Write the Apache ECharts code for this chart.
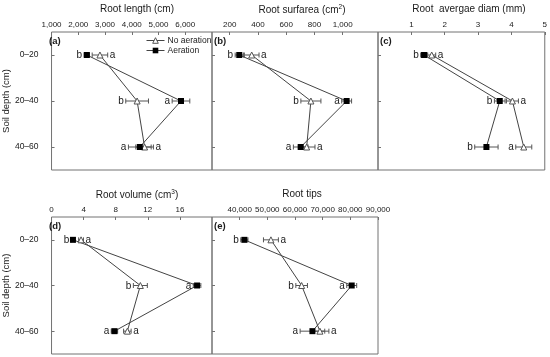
<!DOCTYPE html>
<html><head><meta charset="utf-8">
<script src="https://cdn.jsdelivr.net/npm/echarts@6/dist/echarts.min.js"></script>
<style>html,body{margin:0;padding:0;background:#fff}#c{width:550px;height:357px}</style>
</head><body><div id="c"></div>
<script>
// ---- data ----
const depths = ['0–20', '20–40', '40–60'];

// (a) Root length (cm)
const lengthNoAer = [2810, 4200, 4480];
const lengthNoAerErr = [290, 425, 330];
const lengthAer = [2320, 5840, 4300];
const lengthAerErr = [100, 330, 425];
const lengthNoAerSig = ['a', 'b', 'a'];
const lengthAerSig = ['b', 'a', 'a'];
const lengthTicks = [1000, 2000, 3000, 4000, 5000, 6000];

// (b) Root surface area (cm2)
const surfNoAer = [356, 775, 745];
const surfNoAerErr = [52, 71, 59];
const surfAer = [268, 1028, 703];
const surfAerErr = [29, 35, 52];
const surfNoAerSig = ['a', 'b', 'a'];
const surfAerSig = ['b', 'a', 'a'];
const surfTicks = [200, 400, 600, 800, 1000];

// (c) Root average diameter (mm)
const diamNoAer = [1.61, 4.03, 4.37];
const diamNoAerErr = [0.12, 0.18, 0.24];
const diamAer = [1.38, 3.65, 3.25];
const diamAerErr = [0.1, 0.16, 0.35];
const diamNoAerSig = ['a', 'a', 'a'];
const diamAerSig = ['b', 'b', 'b'];
const diamTicks = [1, 2, 3, 4, 5];

// (d) Root volume (cm3)
const volNoAer = [3.68, 11.07, 9.45];
const volNoAerErr = [0.3, 0.87, 0.47];
const volAer = [2.67, 18.14, 7.84];
const volAerErr = [0.2, 0.47, 0.4];
const volNoAerSig = ['a', 'b', 'a'];
const volAerSig = ['b', 'a', 'a'];
const volTicks = [0, 4, 8, 12, 16];

// (e) Root tips
const tipsNoAer = [51300, 62400, 69000];
const tipsNoAerErr = [2700, 2100, 3250];
const tipsAer = [41700, 80500, 66300];
const tipsAerErr = [1300, 1800, 4450];
const tipsNoAerSig = ['a', 'b', 'a'];
const tipsAerSig = ['b', 'a', 'a'];
const tipsTicks = [40000, 50000, 60000, 70000, 80000, 90000];

// ---- layout / styling ----
const FONT = '"Liberation Sans", Arial, sans-serif';
const panels = [
  {tag:'(a)', title:'Root length (cm)', tx:137, ty:4, grid:{left:47, top:32, width:165, height:138}, min:1000, max:7000, ticks:lengthTicks,
   noAer:lengthNoAer, noAerErr:lengthNoAerErr, aer:lengthAer, aerErr:lengthAerErr, noAerSig:lengthNoAerSig, aerSig:lengthAerSig,
   noAerSide:['right','left','right'], aerSide:['left','left','left'], yLabels:true},
  {tag:'(b)', title:'Root surfarea (cm{sup|2})', tx:302, ty:4, grid:{left:212, top:32, width:166, height:138}, min:75, max:1250, ticks:surfTicks,
   noAer:surfNoAer, noAerErr:surfNoAerErr, aer:surfAer, aerErr:surfAerErr, noAerSig:surfNoAerSig, aerSig:surfAerSig,
   noAerSide:['right','left','right'], aerSide:['left','left','left'], yLabels:false},
  {tag:'(c)', title:'Root  avergae diam (mm)', tx:469, ty:4, grid:{left:378, top:32, width:167, height:138}, min:0, max:5, ticks:diamTicks,
   noAer:diamNoAer, noAerErr:diamNoAerErr, aer:diamAer, aerErr:diamAerErr, noAerSig:diamNoAerSig, aerSig:diamAerSig,
   noAerSide:['right','right','left'], aerSide:['left','left','left'], yLabels:false},
  {tag:'(d)', title:'Root volume (cm{sup|3})', tx:137, ty:189, grid:{left:47, top:217, width:165, height:137}, min:0, max:20, ticks:volTicks,
   noAer:volNoAer, noAerErr:volNoAerErr, aer:volAer, aerErr:volAerErr, noAerSig:volNoAerSig, aerSig:volAerSig,
   noAerSide:['right','left','right'], aerSide:['left','left','left'], yLabels:true},
  {tag:'(e)', title:'Root tips', tx:302, ty:189, grid:{left:212, top:217, width:166, height:137}, min:30000, max:90000, ticks:tipsTicks,
   noAer:tipsNoAer, noAerErr:tipsNoAerErr, aer:tipsAer, aerErr:tipsAerErr, noAerSig:tipsNoAerSig, aerSig:tipsAerSig,
   noAerSide:['right','left','right'], aerSide:['left','left','left'], yLabels:false}
];

const grids = [], xAxes = [], yAxes = [], series = [], titles = [];

function errSeries(i, means, errs) {
  return {
    type:'custom', xAxisIndex:i, yAxisIndex:i, z:1, silent:true,
    data: means.map((m, k) => [m, depths[k]]),
    renderItem: (params, api) => {
      const k = params.dataIndex, m = means[k], e = errs[k];
      const p1 = api.coord([m - e, k]), p2 = api.coord([m + e, k]);
      const h = 2.5, st = {stroke:'#555', lineWidth:1};
      return {type:'group', children:[
        {type:'line', shape:{x1:p1[0], y1:p1[1], x2:p2[0], y2:p2[1]}, style:st},
        {type:'line', shape:{x1:p1[0], y1:p1[1]-h, x2:p1[0], y2:p1[1]+h}, style:st},
        {type:'line', shape:{x1:p2[0], y1:p2[1]-h, x2:p2[0], y2:p2[1]+h}, style:st}
      ]};
    }
  };
}
function sigSeries(i, means, errs, sig, side) {
  return {
    type:'custom', xAxisIndex:i, yAxisIndex:i, z:3, silent:true,
    data: means.map((m, k) => [m, depths[k]]),
    renderItem: (params, api) => {
      const k = params.dataIndex, m = means[k], e = errs[k];
      const left = side[k] === 'left';
      const p = api.coord([left ? m - e : m + e, k]);
      return {type:'text', x: p[0] + (left ? -2 : 2), y: p[1] + 0.5,
        style:{text: sig[k], align: left ? 'right' : 'left', verticalAlign:'middle',
               fontSize:10, fontFamily:FONT, fill:'#1a1a1a'}};
    }
  };
}

panels.forEach((p, i) => {
  grids.push(Object.assign({show:true, borderColor:'#727272', borderWidth:1, backgroundColor:'transparent'}, p.grid));
  xAxes.push({
    gridIndex:i, type:'value', position:'top', min:p.min, max:p.max,
    axisLine:{show:false}, splitLine:{show:false},
    axisTick:{show:true, inside:true, length:3, customValues:p.ticks, lineStyle:{color:'#727272'}},
    axisLabel:{customValues:p.ticks, margin:3, fontSize:8, fontFamily:FONT, color:'#1a1a1a',
               formatter:v => Number(v).toLocaleString('en-US')}
  });
  yAxes.push({
    gridIndex:i, type:'category', data:depths, inverse:true,
    axisLine:{show:false}, splitLine:{show:false},
    axisTick:{show:true, inside:true, length:3, alignWithLabel:true, lineStyle:{color:'#727272'}},
    axisLabel:{show:p.yLabels, margin:13, fontSize:8.5, fontFamily:FONT, color:'#1a1a1a'},
    name: p.yLabels ? 'Soil depth (cm)' : '', nameLocation:'middle', nameRotate:90, nameGap:33,
    nameTextStyle:{fontSize:9.5, fontFamily:FONT, color:'#1a1a1a'}
  });
  series.push(errSeries(i, p.noAer, p.noAerErr));
  series.push(errSeries(i, p.aer, p.aerErr));
  series.push({
    name:'No aeration', type:'line', xAxisIndex:i, yAxisIndex:i, z:2,
    data:p.noAer.map((m, k) => [m, depths[k]]),
    symbol:'triangle', symbolSize:6, showAllSymbol:true,
    lineStyle:{color:'#444', width:1},
    itemStyle:{color:'#fff', borderColor:'#555', borderWidth:1}
  });
  series.push({
    name:'Aeration', type:'line', xAxisIndex:i, yAxisIndex:i, z:2,
    data:p.aer.map((m, k) => [m, depths[k]]),
    symbol:'rect', symbolSize:6, showAllSymbol:true,
    lineStyle:{color:'#444', width:1},
    itemStyle:{color:'#000', borderColor:'#000', borderWidth:0}
  });
  series.push(sigSeries(i, p.noAer, p.noAerErr, p.noAerSig, p.noAerSide));
  series.push(sigSeries(i, p.aer, p.aerErr, p.aerSig, p.aerSide));
  titles.push({
    text:p.title, left:p.tx, top:p.ty, textAlign:'center', padding:0,
    textStyle:{fontSize:10, fontWeight:'normal', fontFamily:FONT, color:'#1a1a1a',
      rich:{sup:{fontSize:6.5, verticalAlign:'top', padding:[0,0,5,0], fontFamily:FONT, color:'#1a1a1a'}}}
  });
  titles.push({
    text:p.tag, left:p.grid.left + 2, top:p.grid.top + 4, padding:0,
    textStyle:{fontSize:9.5, fontWeight:'bold', fontFamily:FONT, color:'#1a1a1a'}
  });
});

const chart = echarts.init(document.getElementById('c'), null, {renderer:'canvas'});
chart.setOption({
  animation:false,
  backgroundColor:'#fff',
  title:titles,
  legend:{
    data:[
      {name:'No aeration', itemStyle:{color:'#fff', borderColor:'#555', borderWidth:1}, lineStyle:{color:'#444', width:1}},
      {name:'Aeration', itemStyle:{color:'#000', borderColor:'#000', borderWidth:0}, lineStyle:{color:'#444', width:1}}
    ],
    orient:'vertical', left:146, top:36,
    itemWidth:18, itemHeight:7, itemGap:1, padding:0,
    textStyle:{fontSize:8.5, fontFamily:FONT, color:'#1a1a1a', padding:[0,0,0,-2]}
  },
  grid:grids, xAxis:xAxes, yAxis:yAxes, series:series
});
</script></body></html>
